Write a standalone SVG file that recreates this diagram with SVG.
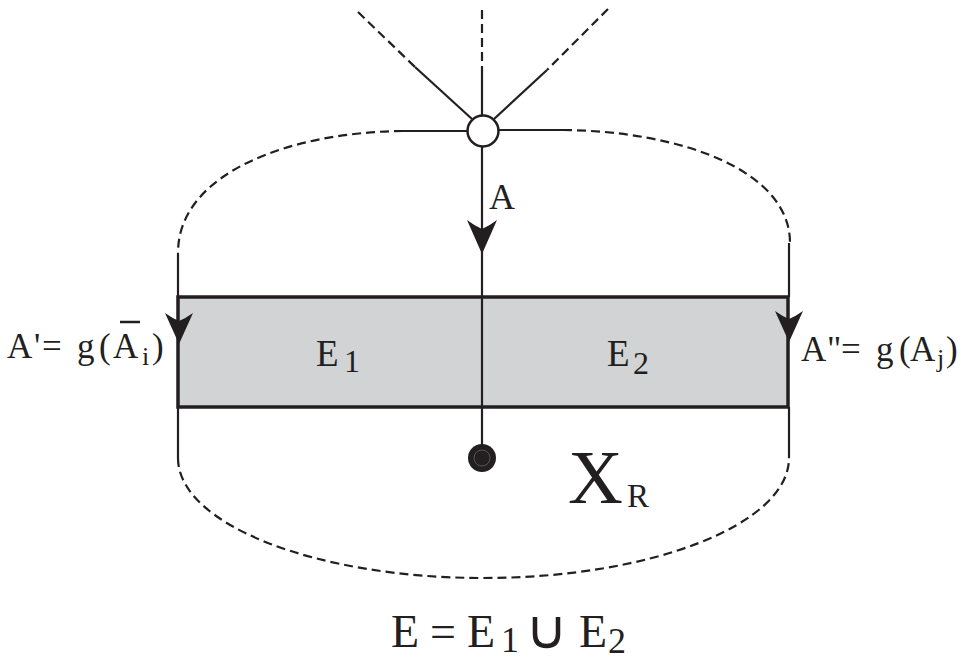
<svg xmlns="http://www.w3.org/2000/svg" width="973" height="662" viewBox="0 0 973 662">
<style>
.s{stroke:#231f20;stroke-width:2.2;fill:none}
.d{stroke:#231f20;stroke-width:2.2;fill:none;stroke-dasharray:9 5}
.ah{fill:#231f20;stroke:none}
text{font-family:"Liberation Serif","Times New Roman",serif;fill:#231f20}
</style>
<rect width="973" height="662" fill="#ffffff"/>
<g id="connectors">
<line class="d" x1="482" y1="10" x2="482" y2="72"/>
<line class="s" x1="482" y1="72" x2="482" y2="115"/>
<line class="d" x1="358" y1="12" x2="415" y2="67"/>
<line class="s" x1="415" y1="67" x2="472" y2="119"/>
<line class="d" x1="608" y1="9" x2="547" y2="70"/>
<line class="s" x1="547" y1="70" x2="494" y2="119"/>
<line class="s" x1="403" y1="131" x2="467" y2="131"/>
<line class="s" x1="499" y1="130" x2="563" y2="130"/>
<path class="d" d="M403,131 C292,132 178,172 178,253"/>
<path class="d" d="M563,130 C680,131 790,170 790,243"/>
<line class="s" x1="178" y1="253" x2="178" y2="297"/>
<line class="s" x1="789" y1="243" x2="789" y2="297"/>
<line class="s" x1="178" y1="407" x2="178" y2="458"/>
<line class="s" x1="789" y1="407" x2="789" y2="458"/>
<path class="d" d="M178,458 C178,524 315,578 483,578 C652,578 789,524 789,458"/>
</g>
<g id="region">
<rect x="178" y="297" width="610" height="110" fill="#d1d3d4" stroke="#231f20" stroke-width="3.5"/>
</g>
<g id="center-line">
<line class="s" x1="482" y1="147" x2="482" y2="446"/>
<path class="ah" d="M482,254 L467,220 Q475,226 482,229 Q489,226 497,220 Z"/>
</g>
<g id="side-arrows">
<path class="ah" d="M179,344 L165,313 Q172,318 179,321 Q186,318 193,313 Z"/>
<path class="ah" d="M789,342 L775,311 Q782,316 789,319 Q796,316 803,311 Z"/>
</g>
<g id="vertex-top">
<circle cx="483" cy="131" r="15.5" fill="#ffffff" stroke="#231f20" stroke-width="2.5"/>
</g>
<g id="vertex-bottom">
<circle cx="482" cy="458" r="14" fill="#231f20"/>
<circle cx="482" cy="458" r="8" fill="none" stroke="#777" stroke-width="0.6"/>
</g>
<g id="labels">
<text x="489" y="209" font-size="36">A</text>
<text y="358" font-size="35"><tspan x="7">A</tspan><tspan x="34">'</tspan><tspan x="42">=</tspan><tspan x="77">g</tspan><tspan x="99">(</tspan><tspan x="113">A</tspan></text>
<text x="142" y="365" font-size="26">i</text>
<text x="152" y="358" font-size="35">)</text>
<line x1="120" y1="322" x2="140" y2="322" stroke="#231f20" stroke-width="2.5"/>
<text y="361" font-size="35"><tspan x="801">A</tspan><tspan x="827">"</tspan><tspan x="841">=</tspan><tspan x="876">g</tspan><tspan x="899">(</tspan><tspan x="910">A</tspan></text>
<text x="937" y="367" font-size="26">j</text>
<text x="946" y="361" font-size="35">)</text>
<text x="316" y="366" font-size="37">E</text>
<text x="344" y="372" font-size="32">1</text>
<text x="607" y="366" font-size="37">E</text>
<text x="633" y="374" font-size="32">2</text>
<text x="568" y="503" font-size="76">X</text>
<text x="627" y="507" font-size="33">R</text>
<text x="391" y="647" font-size="46">E</text>
<text x="430" y="647" font-size="46">=</text>
<text x="467" y="647" font-size="46">E</text>
<text x="501" y="652" font-size="36">1</text>
<path d="M535,617 L535,634 Q535,646 546.5,646 Q558,646 558,634 L558,617" fill="none" stroke="#231f20" stroke-width="4.5"/>
<text x="579" y="647" font-size="46">E</text>
<text x="608" y="653" font-size="36">2</text>
</g>
</svg>
